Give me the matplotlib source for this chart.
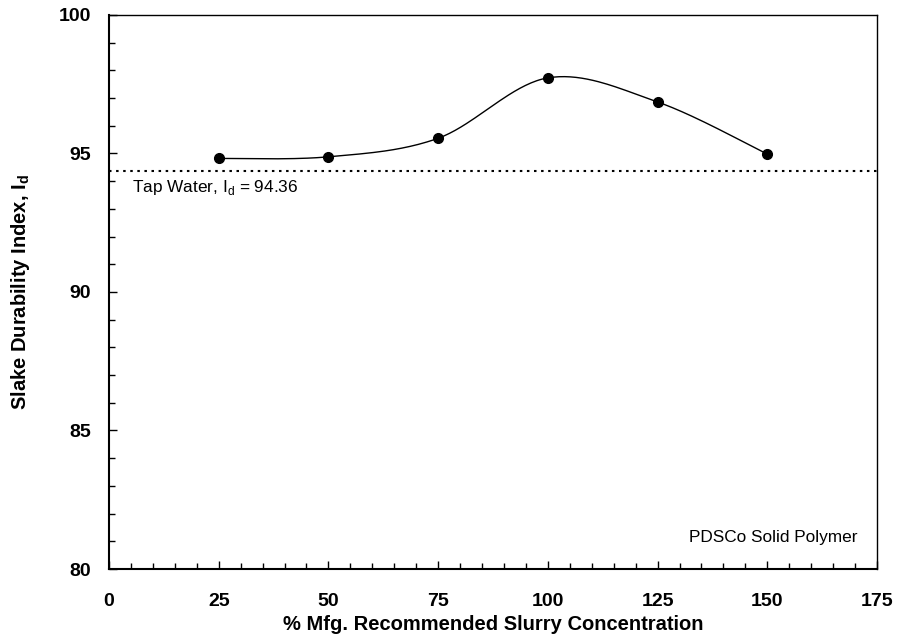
import numpy as np
import matplotlib
matplotlib.use("Agg")
import matplotlib.pyplot as plt
from matplotlib.ticker import MultipleLocator

plt.rcParams['font.family'] = ['Liberation Sans', 'DejaVu Sans']

concentration = [25, 50, 75, 100, 125, 150]
durability = [94.82, 94.88, 95.55, 97.73, 96.86, 94.98]
tap_water = 94.36


def smooth_curve(x, y, n=40):
    """Catmull-Rom style smoothing through every point."""
    x = np.asarray(x, float)
    y = np.asarray(y, float)
    px = np.concatenate([[x[0]], x, [x[-1]]])
    py = np.concatenate([[y[0]], y, [y[-1]]])
    xs, ys = [], []
    for i in range(1, len(px) - 2):
        p0 = np.array([px[i], py[i]])
        p3 = np.array([px[i + 1], py[i + 1]])
        c1 = p0 + (np.array([px[i + 1], py[i + 1]]) - np.array([px[i - 1], py[i - 1]])) / 6
        c2 = p3 - (np.array([px[i + 2], py[i + 2]]) - np.array([px[i], py[i]])) / 6
        t = np.linspace(0, 1, n)[:, None]
        pts = ((1 - t) ** 3) * p0 + 3 * ((1 - t) ** 2) * t * c1 + 3 * (1 - t) * t ** 2 * c2 + t ** 3 * p3
        xs.append(pts[:, 0])
        ys.append(pts[:, 1])
    return np.concatenate(xs), np.concatenate(ys)


fig = plt.figure(figsize=(8.97, 6.40), dpi=100)
ax = fig.add_axes([109 / 897, 1 - 569 / 640, (877 - 109) / 897, (569 - 15) / 640])

sx, sy = smooth_curve(concentration, durability)
ax.plot(sx, sy, color='black', lw=1.0, zorder=2)
ax.plot(concentration, durability, 'o', color='black', ms=7, zorder=3)
ax.axhline(tap_water, color='black', lw=1.5, linestyle=(0, (1.2, 2.2)), zorder=1)

ax.text(5.3, tap_water - 0.58, r'Tap Water, I$_\mathregular{d}$ = 94.36', fontsize=12.4,
        ha='left', va='center')
ax.text(170.5, 81.15, 'PDSCo Solid Polymer', fontsize=12.4, ha='right', va='center')

ax.set_xlim(0, 175)
ax.set_ylim(80, 100)
ax.xaxis.set_major_locator(MultipleLocator(25))
ax.xaxis.set_minor_locator(MultipleLocator(5))
ax.yaxis.set_major_locator(MultipleLocator(5))
ax.yaxis.set_minor_locator(MultipleLocator(1))
ax.tick_params(which='both', direction='in', top=False, right=False, width=1)
ax.tick_params(which='major', length=6, labelsize=14)
ax.tick_params(which='minor', length=4)
ax.tick_params(axis='x', which='major', pad=17)
ax.tick_params(axis='y', which='major', pad=13)
for lab in ax.get_xticklabels() + ax.get_yticklabels():
    lab.set_fontweight('bold')
for sp in ax.spines.values():
    sp.set_linewidth(1.0)
ax.spines['left'].set_linewidth(1.5)
ax.spines['bottom'].set_linewidth(1.5)

ax.set_xlabel('% Mfg. Recommended Slurry Concentration', fontsize=14.5, fontweight='bold', labelpad=4)
ax.set_ylabel(r'Slake Durability Index, I$_\mathregular{d}$', fontsize=14.5, fontweight='bold', labelpad=19)

fig.savefig('out.png', dpi=100)
